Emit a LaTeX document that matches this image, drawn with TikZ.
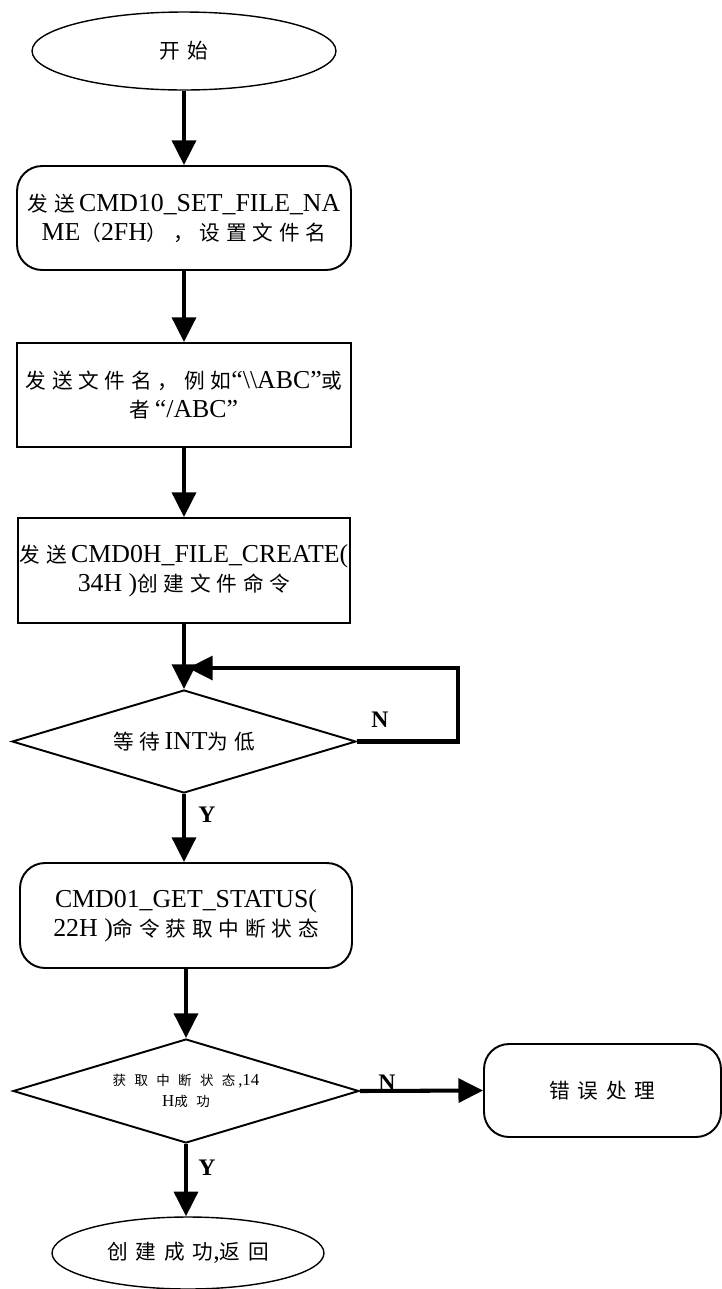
\documentclass[tikz,border=0pt]{standalone}
\usepackage{fontspec}
\setmainfont{Liberation Serif}
\newfontfamily\cjk[Scale=0.8]{Noto Sans CJK SC}
% Chinese run with extra tracking (optional argument: letter space)
\newcommand\zh[2][28]{{\cjk\addfontfeature{LetterSpace=#1}#2}}
\usetikzlibrary{shapes.geometric,arrows.meta}

\begin{document}
\begin{tikzpicture}[x=0.02cm,y=-0.02cm,
  every node/.style={font=\fontsize{14.7}{16.5}\selectfont, align=center, inner sep=0pt},
  term/.style={ellipse, draw, line width=0.8pt},
  proc/.style={rectangle, draw, line width=1.1pt},
  rproc/.style={proc, rounded corners=0.5cm},
  decide/.style={diamond, draw, line width=1.1pt, aspect=3.33},
  flow/.style={line width=2.3pt, -{Triangle[length=14pt,width=13.5pt]}},
  lbl/.style={font=\fontsize{13.5}{13.5}\selectfont\bfseries}]

\useasboundingbox (0,0) rectangle (721,1289);

% terminals and steps, all on one vertical axis
\node[term, minimum width=6.08cm, minimum height=1.56cm] (start) at (184,51) {\zh[35]{开始}};
\node[rproc, minimum width=6.68cm, minimum height=2.08cm] (setname) at (184,218)
  {\zh{发送}\,CMD10\_SET\_FILE\_NA\\ME\zh{（}2FH\zh{），设置文件名}};
\node[proc, minimum width=6.68cm, minimum height=2.08cm] (sendname) at (184,395)
  {\zh{发送文件名，例如}“\textbackslash\textbackslash ABC”\zh{或}\\\zh{者}\,“/ABC”};
\node[proc, minimum width=6.64cm, minimum height=2.10cm] (create) at (184,570.5)
  {\zh{发送}\,CMD0H\_FILE\_CREATE(\\34H )\zh{创建文件命令}};
\node[decide, minimum width=6.88cm, minimum height=2.06cm] (waitint) at (184,741.5)
  {\zh{等待}\,INT\zh{为低}};
\node[rproc, minimum width=6.64cm, minimum height=2.10cm] (getstat) at (186,915.5)
  {CMD01\_GET\_STATUS(\\22H )\zh{命令获取中断状态}};
\node[decide, minimum width=6.92cm, minimum height=2.08cm,
      font=\fontsize{9.6}{12}\selectfont] (ok14) at (186,1091)
  {\zh[62]{获取中断状态}\,,14\\H\zh[62]{成功}};
\node[rproc, minimum width=4.74cm, minimum height=1.86cm] (err) at (602.5,1090.5)
  {\zh[38]{错误处理}};
\node[term, minimum width=5.44cm, minimum height=1.44cm] (done) at (188,1253)
  {\zh[38]{创建成功},\zh[38]{返回}};

% loop re-entry point above the wait test
\coordinate (loopin) at (188,668);

% connectors
\draw[flow] (start.south) -- (setname.north);
\draw[flow] (setname.south) -- (sendname.north);
\draw[flow] (sendname.south) -- (create.north);
\draw[flow] (create.south) -- (waitint.north);
\draw[flow] (waitint.east) -- ++(101,0) |- (loopin);
\draw[flow] (waitint.south) -- (waitint.south |- getstat.north);
\draw[flow] (getstat.south) -- (ok14.north);
\draw[flow] (ok14.east) -- (err.west);
\draw[flow] (ok14.south) -- (ok14.south |- done.north);

% branch labels
\node[lbl] (n1) at (380,720) {N};
\node[lbl] (y1) at (207,815) {Y};
\node[lbl] (n2) at (387,1083) {N};
\node[lbl] (y2) at (207,1168) {Y};
\end{tikzpicture}
\end{document}
